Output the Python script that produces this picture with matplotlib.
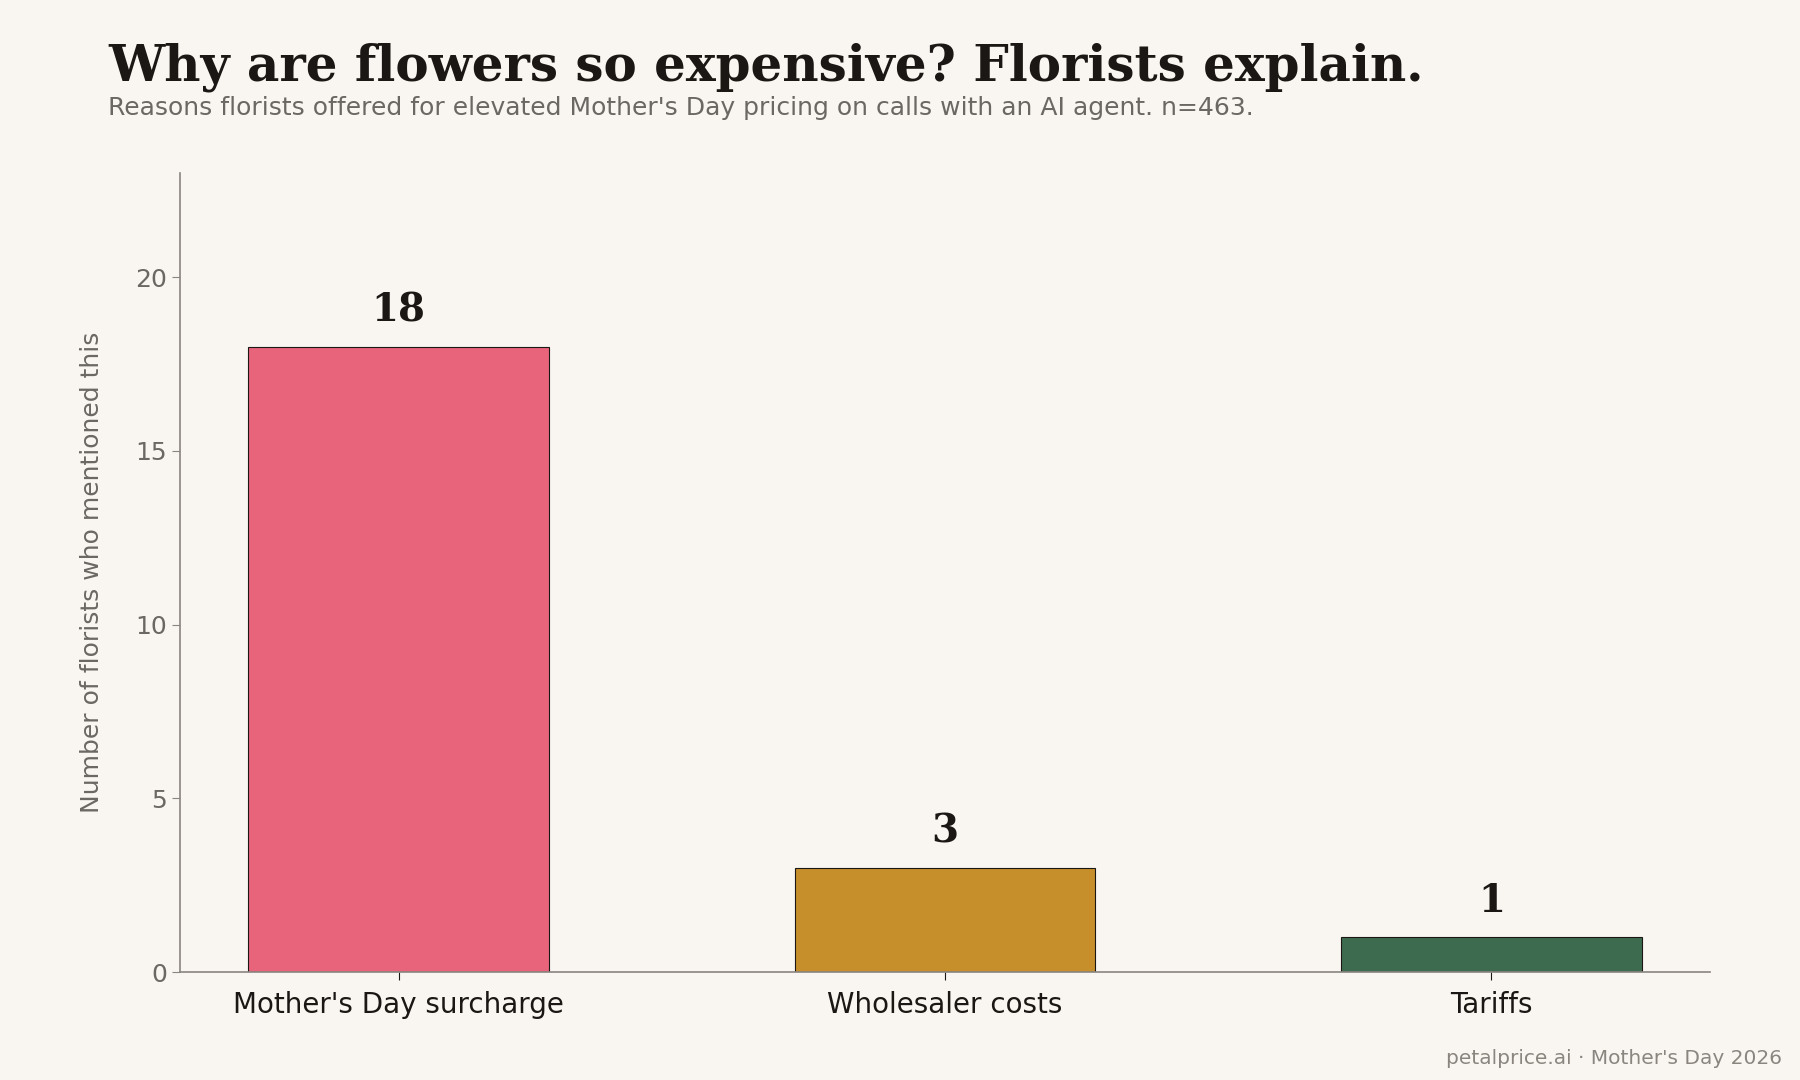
import matplotlib
matplotlib.use("Agg")
import matplotlib.pyplot as plt
import numpy as np

reasons = ["Mother's Day surcharge", "Wholesaler costs", "Tariffs"]
counts = [18, 3, 1]
bar_colors = ["#e8647b", "#c68f2c", "#3d6b4f"]

title = "Why are flowers so expensive? Florists explain."
subtitle = "Reasons florists offered for elevated Mother's Day pricing on calls with an AI agent. n=463."
footer = "petalprice.ai \u00b7 Mother's Day 2026"

BG = "#f9f6f1"
INK = "#1a1714"
GREY = "#6b6762"
SPINE = "#8a857f"

fig, ax = plt.subplots(figsize=(18, 10.8), dpi=100)
fig.patch.set_facecolor(BG)
ax.set_facecolor(BG)
fig.subplots_adjust(left=0.1, right=0.95, top=0.84, bottom=0.1)

x = np.arange(len(reasons))
ax.bar(x, counts, width=0.55, color=bar_colors, edgecolor=INK, linewidth=0.8)

for xi, v in zip(x, counts):
    ax.text(xi, v + 0.5, str(v), ha="center", va="bottom",
            family="DejaVu Serif", fontweight="bold", fontsize=28, color=INK)

ax.set_xlim(-0.4, 2.4)
ax.set_ylim(0, 23)
ax.set_yticks([0, 5, 10, 15, 20])
ax.set_xticks(x)
ax.set_xticklabels(reasons, fontsize=20, color=INK)
ax.tick_params(axis="y", labelsize=18, labelcolor=GREY, color=SPINE, length=6)
ax.tick_params(axis="x", color=INK, length=6, pad=8)
ax.set_ylabel("Number of florists who mentioned this", fontsize=18, color=GREY, labelpad=22)

for side in ["top", "right"]:
    ax.spines[side].set_visible(False)
for side in ["left", "bottom"]:
    ax.spines[side].set_color(SPINE)
    ax.spines[side].set_linewidth(1.2)

fig.text(0.06, 0.938, title, family="DejaVu Serif", fontweight="bold",
         fontsize=36, color=INK, va="center", ha="left")
fig.text(0.06, 0.9, subtitle, fontsize=18, color=GREY, va="center", ha="left")
fig.text(0.99, 0.02, footer, fontsize=14.5, color="#8a857f", va="center", ha="right")

fig.savefig("out.png", facecolor=BG)
